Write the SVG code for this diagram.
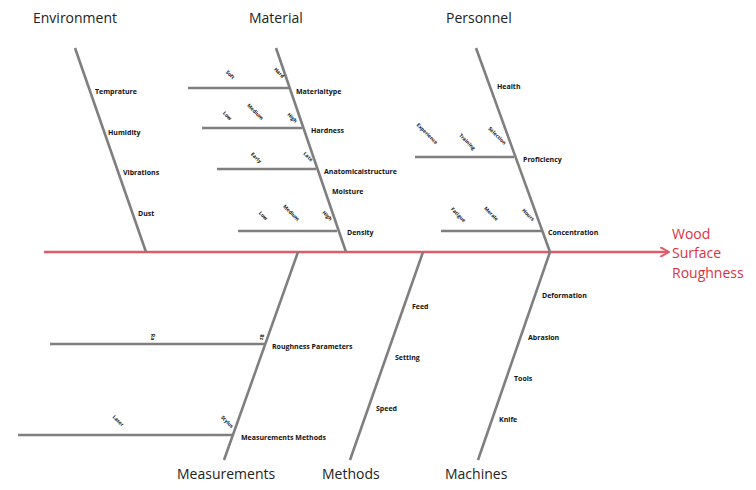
<svg xmlns="http://www.w3.org/2000/svg" width="756" height="490" viewBox="0 0 756 490">
<defs>
<marker id="arr" markerWidth="10" markerHeight="10" refX="8" refY="5" orient="auto" markerUnits="userSpaceOnUse">
<path d="M0,0 L9,5 L0,10" fill="none" stroke="#e05a6a" stroke-width="2"/>
</marker>
<style>
.bone{stroke:#7f7f7f;stroke-width:2.6;fill:none}
.spine{stroke:#e05a6a;stroke-width:2.6;fill:none}
.cat{font-family:"Open Sans","Noto Sans",sans-serif;font-size:14px;fill:#222}
.lbl{font-family:"Open Sans","Noto Sans",sans-serif;font-size:7px;font-weight:bold;fill:#111}
.sub{font-family:"Open Sans","Noto Sans",sans-serif;font-size:5px;font-weight:bold;fill:#111;text-anchor:middle}
.eff{font-family:"Open Sans","Noto Sans",sans-serif;font-size:14px;fill:#e0303f}
</style>
</defs>
<rect width="756" height="490" fill="#fff"/>
<g id="connectors">
<line class="spine" x1="44" y1="252" x2="668" y2="252" marker-end="url(#arr)"/>
<line class="bone" x1="75" y1="48" x2="146" y2="252"/>
<line class="bone" x1="276" y1="48" x2="346" y2="252"/>
<line class="bone" x1="476" y1="48" x2="550" y2="252"/>
<line class="bone" x1="298" y1="252" x2="224" y2="460"/>
<line class="bone" x1="423" y1="252" x2="350" y2="460"/>
<line class="bone" x1="550" y1="252" x2="478" y2="460"/>
<line class="bone" x1="188" y1="88" x2="289" y2="88"/>
<line class="bone" x1="202" y1="128" x2="302" y2="128"/>
<line class="bone" x1="217" y1="169" x2="316" y2="169"/>
<line class="bone" x1="238" y1="231" x2="337" y2="231"/>
<line class="bone" x1="415" y1="157" x2="514" y2="157"/>
<line class="bone" x1="441" y1="231" x2="542" y2="231"/>
<line class="bone" x1="50" y1="344" x2="265" y2="344"/>
<line class="bone" x1="18" y1="435" x2="233" y2="435"/>
</g>
<g id="effect"><text class="eff" x="672" y="239">Wood</text><text class="eff" x="672" y="258">Surface</text><text class="eff" x="672" y="278">Roughness</text></g>
<g id="environment">
<text class="cat" x="33" y="23">Environment</text>
<text class="lbl" x="95" y="94">Temprature</text>
<text class="lbl" x="108" y="135">Humidity</text>
<text class="lbl" x="123" y="175">Vibrations</text>
<text class="lbl" x="138" y="216">Dust</text>
</g>
<g id="material">
<text class="cat" x="249" y="23">Material</text>
<text class="lbl" x="296" y="94">Materialtype</text>
<text class="lbl" x="311" y="133">Hardness</text>
<text class="lbl" x="324" y="174">Anatomicalstructure</text>
<text class="lbl" x="332" y="194">Moisture</text>
<text class="lbl" x="347" y="235">Density</text>
<text class="sub" transform="translate(229,76) rotate(45)">Soft</text>
<text class="sub" transform="translate(278,74) rotate(45)">Hard</text>
<text class="sub" transform="translate(226,117) rotate(45)">Low</text>
<text class="sub" transform="translate(254,113) rotate(45)">Medium</text>
<text class="sub" transform="translate(291,119) rotate(45)">High</text>
<text class="sub" transform="translate(255,159) rotate(45)">Early</text>
<text class="sub" transform="translate(307,158) rotate(45)">Late</text>
<text class="sub" transform="translate(262,217) rotate(45)">Low</text>
<text class="sub" transform="translate(290,214) rotate(45)">Medium</text>
<text class="sub" transform="translate(326,217) rotate(45)">High</text>
</g>
<g id="personnel">
<text class="cat" x="446" y="23">Personnel</text>
<text class="lbl" x="497" y="89">Health</text>
<text class="lbl" x="523" y="162">Proficiency</text>
<text class="lbl" x="548" y="235">Concentration</text>
<text class="sub" transform="translate(426,135) rotate(45)">Experience</text>
<text class="sub" transform="translate(466,143) rotate(45)">Training</text>
<text class="sub" transform="translate(496,137) rotate(45)">Selection</text>
<text class="sub" transform="translate(457,216) rotate(45)">Fatigue</text>
<text class="sub" transform="translate(490,215) rotate(45)">Morale</text>
<text class="sub" transform="translate(527,216) rotate(45)">Hours</text>
</g>
<g id="measurements">
<text class="cat" x="177" y="479">Measurements</text>
<text class="lbl" x="272" y="349">Roughness Parameters</text>
<text class="lbl" x="241" y="440">Measurements Methods</text>
<text class="sub" transform="translate(151,337) rotate(90)">Ra</text>
<text class="sub" transform="translate(260,337) rotate(90)">Rz</text>
<text class="sub" transform="translate(117,422) rotate(45)">Laser</text>
<text class="sub" transform="translate(226,423) rotate(45)">Stylus</text>
</g>
<g id="methods">
<text class="cat" x="322" y="479">Methods</text>
<text class="lbl" x="412" y="309">Feed</text>
<text class="lbl" x="395" y="360">Setting</text>
<text class="lbl" x="376" y="411">Speed</text>
</g>
<g id="machines">
<text class="cat" x="445" y="479">Machines</text>
<text class="lbl" x="542" y="298">Deformation</text>
<text class="lbl" x="528" y="340">Abrasion</text>
<text class="lbl" x="514" y="381">Tools</text>
<text class="lbl" x="499" y="422">Knife</text>
</g>
</svg>
